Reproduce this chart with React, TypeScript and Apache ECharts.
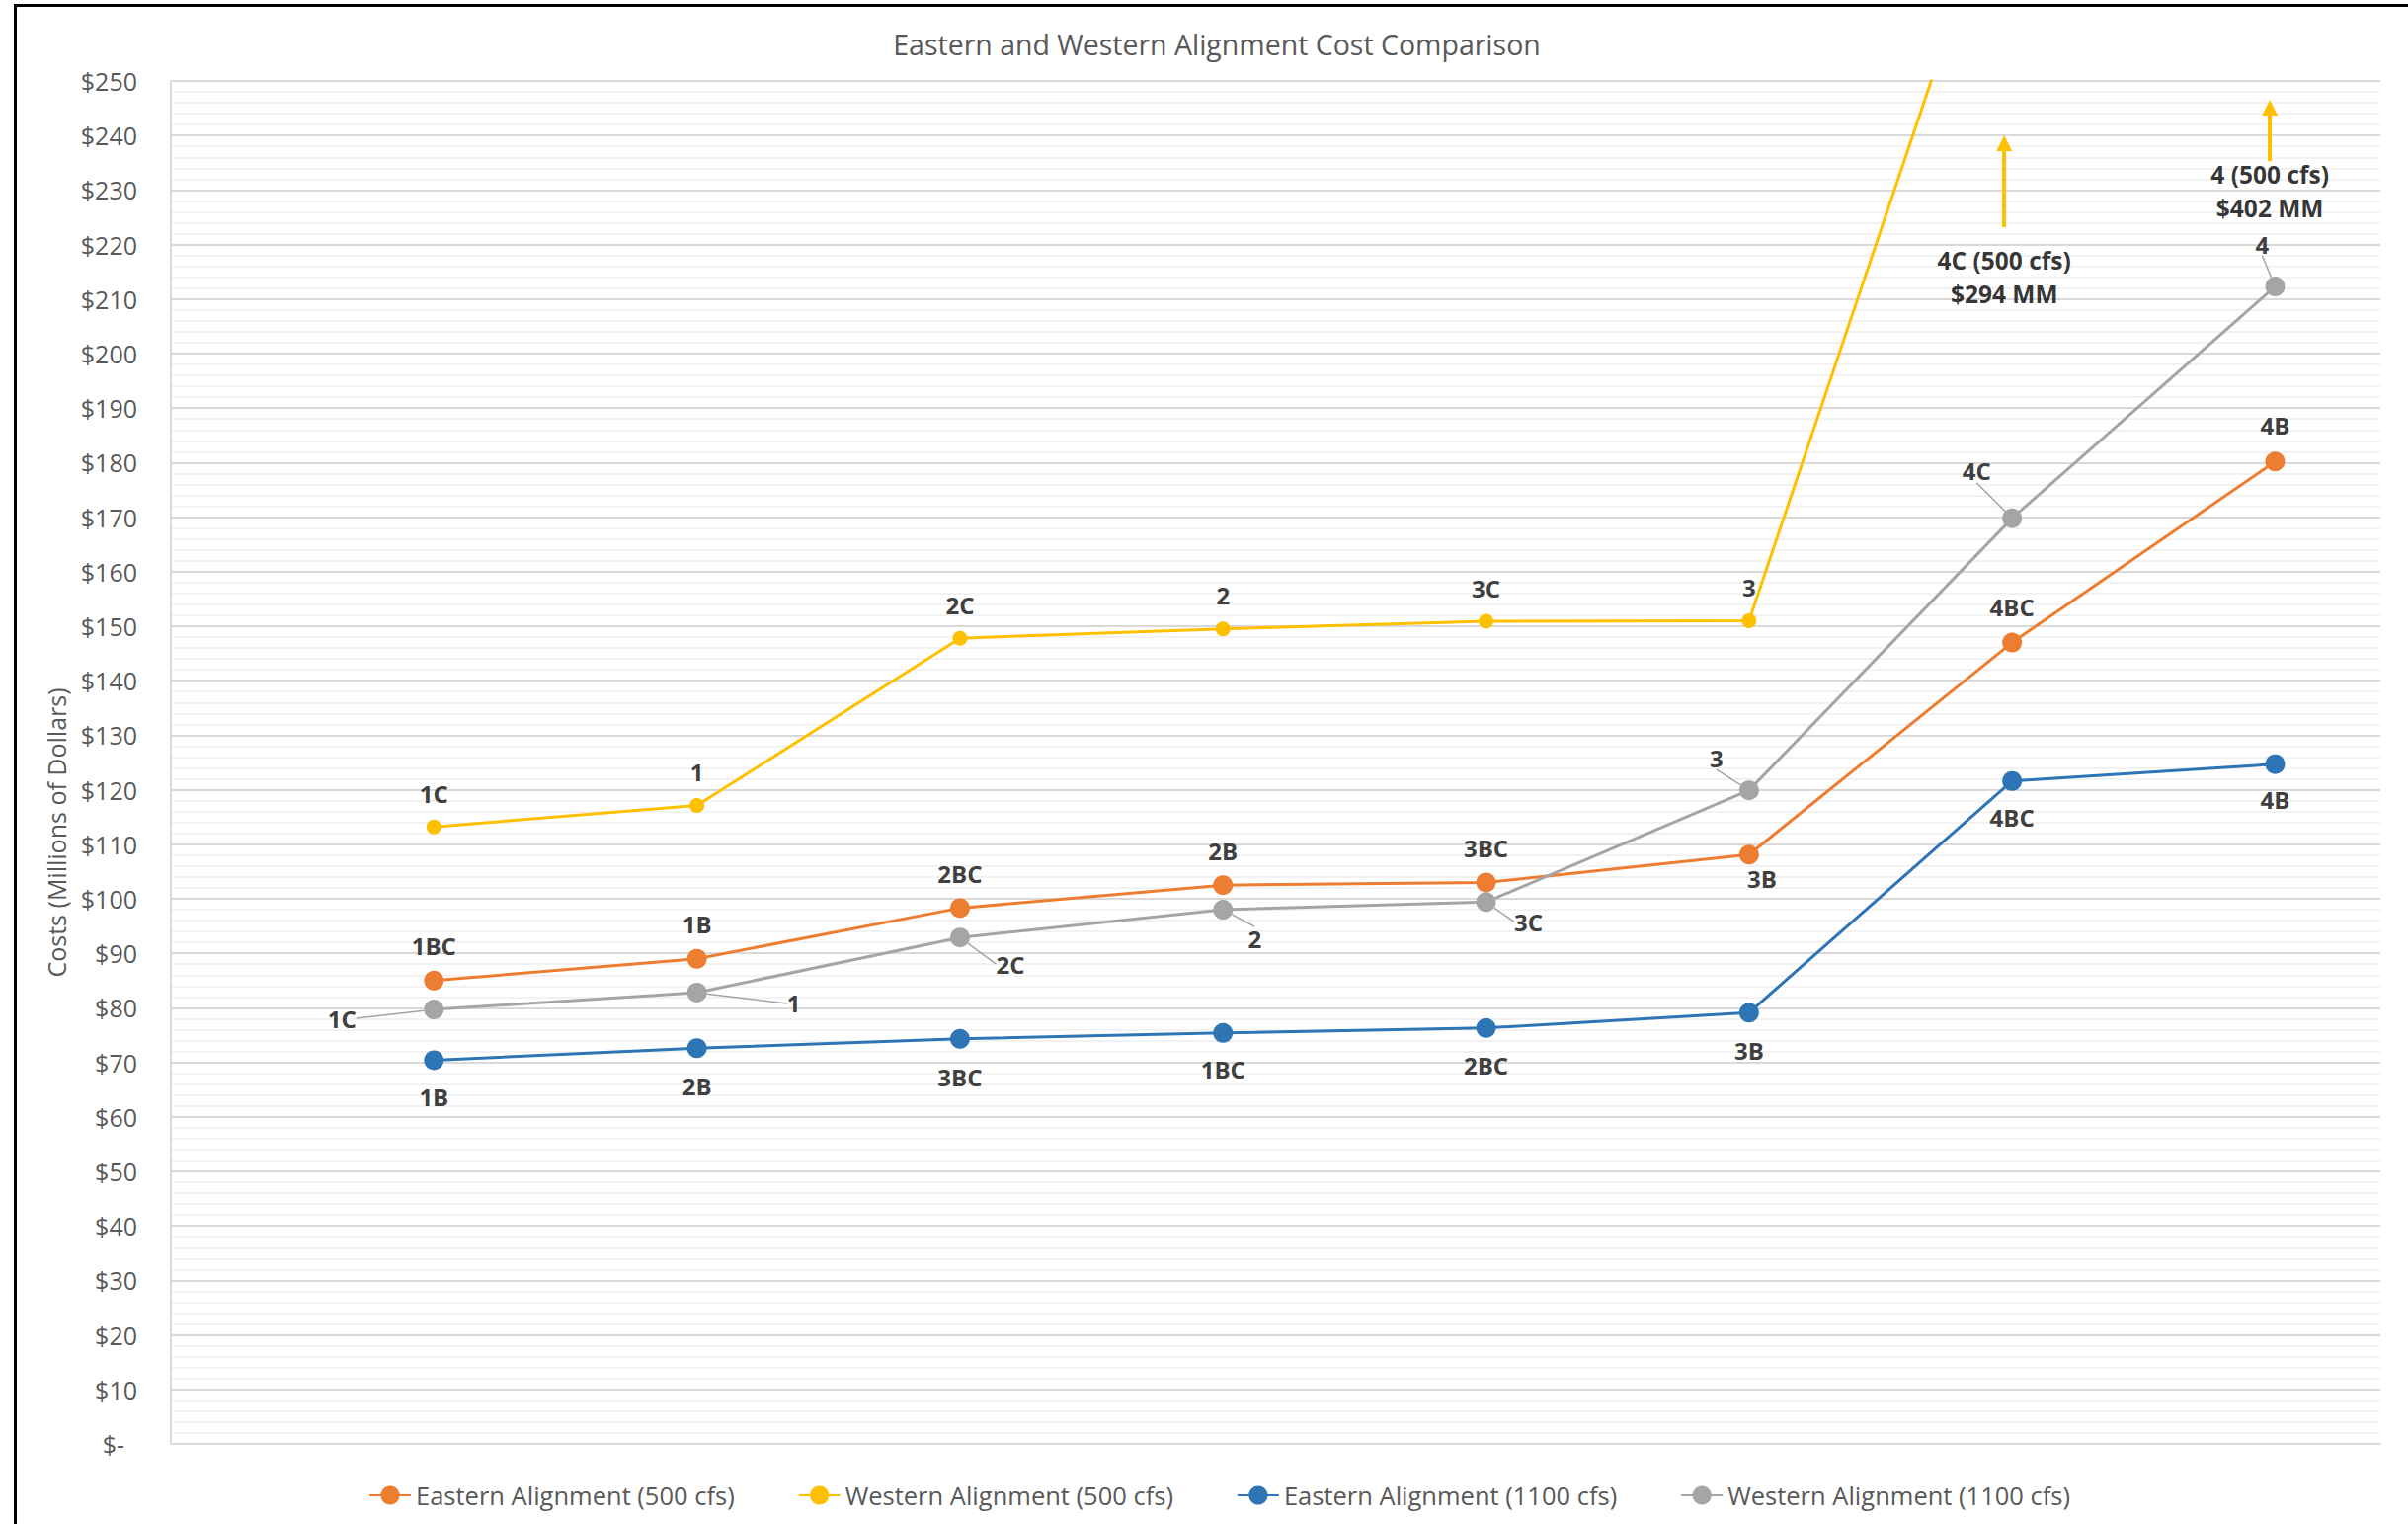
import React, { useEffect, useRef } from 'react';
import * as echarts from 'echarts';

// ---- data ----
const positions = [1, 2, 3, 4, 5, 6, 7, 8];
const easternA500 = [85.0, 89.0, 98.3, 102.5, 103.0, 108.1, 147.0, 180.2];
const westernA500 = [113.2, 117.1, 147.8, 149.5, 150.9, 151.0, 294, 402];
const easternA1100 = [70.4, 72.6, 74.3, 75.4, 76.3, 79.1, 121.6, 124.7];
const westernA1100 = [79.7, 82.8, 92.9, 98.0, 99.4, 119.9, 169.8, 212.3];

const easternA500Labels = ['1BC', '1B', '2BC', '2B', '3BC', '3B', '4BC', '4B'];
const westernA500Labels = ['1C', '1', '2C', '2', '3C', '3', '4C', '4'];
const easternA1100Labels = ['1B', '2B', '3BC', '1BC', '2BC', '3B', '4BC', '4B'];
const westernA1100Labels = ['1C', '1', '2C', '2', '3C', '3', '4C', '4'];

const seriesNames = [
  'Eastern Alignment (500 cfs)',
  'Western Alignment (500 cfs)',
  'Eastern Alignment (1100 cfs)',
  'Western Alignment (1100 cfs)',
];

const offChartPositions = [7, 8];
const offChartValues = [294, 402];
const offChartTexts = ['4C (500 cfs)\n$294 MM', '4 (500 cfs)\n$402 MM'];

const titleText = 'Eastern and Western Alignment Cost Comparison';
const yAxisTitle = 'Costs (Millions of Dollars)';

// ---- styling / placement (kept apart from the data) ----
const FONT = '"Open Sans", "Noto Sans", sans-serif';
const labelColor = '#404040';
const offsetsE500 = [[0, -35], [0, -35], [0, -35], [0, -35], [0, -35], [13, 24], [0, -36], [0, -37]];
const offsetsW500 = [[0, -34], [0, -34], [0, -34], [0, -34], [0, -34], [0, -34], [0, 0], [0, 0]];
const offsetsE1100 = [[0, 37], [0, 38], [0, 39], [0, 37], [0, 38], [0, 38], [0, 37], [0, 36]];
const offsetsW1100 = [[-93, 9], [98, 11], [51, 27], [32, 29], [43, 20], [-33, -33], [-36, -48], [-13, -43]];
const annotationX = [6.97, 7.98];
const annotationY = [214, 229.8];
const arrowTail = [223.2, 235.3];
const arrowHead = [238.6, 245.1];

function buildData(values: number[]) {
  return values.map((v, i) => {
    if (v > 250) return { value: [positions[i], v], symbol: 'none', label: { show: false } };
    return { value: [positions[i], v] };
  });
}

function lineSeries(
  name: string,
  values: number[],
  color: string,
  size: number,
  labels: string[],
  offsets: number[][],
  leader: boolean
) {
  return {
    type: 'line',
    name,
    data: buildData(values),
    symbol: 'circle',
    symbolSize: size,
    clip: true,
    lineStyle: { color, width: 3 },
    itemStyle: { color },
    label: {
      show: true,
      position: 'inside',
      formatter: (p: any) => labels[p.dataIndex],
      color: labelColor,
      fontFamily: FONT,
      fontSize: 24,
      fontWeight: 'bold',
    },
    labelLayout: (p: any) => ({ dx: offsets[p.dataIndex][0], dy: offsets[p.dataIndex][1] }),
    labelLine: leader
      ? { show: true, lineStyle: { color: '#a5a5a5', width: 1.5 } }
      : { show: false },
    emphasis: { disabled: true },
    z: 3,
  };
}

export default function App() {
  const ref = useRef<HTMLDivElement>(null);

  useEffect(() => {
    if (!ref.current) return;
    const chart = echarts.init(ref.current, null, { renderer: 'svg' });

    const w500: any = lineSeries(seriesNames[1], westernA500, '#ffc000', 15, westernA500Labels, offsetsW500, false);
    w500.markLine = {
      silent: true,
      symbol: ['none', 'triangle'],
      symbolSize: 16,
      lineStyle: { color: '#ffc000', width: 4, type: 'solid' },
      label: { show: false },
      emphasis: { disabled: true },
      data: annotationX.map((x, i) => [
        { coord: [x, arrowTail[i]] },
        { coord: [x, arrowHead[i]] },
      ]),
    };

    const option: any = {
      animation: false,
      backgroundColor: '#ffffff',
      graphic: [
        {
          type: 'text',
          x: 1232,
          y: 45,
          style: {
            text: titleText,
            fill: '#595959',
            font: `28.5px ${FONT}`,
            align: 'center',
            verticalAlign: 'middle',
            textAlign: 'center',
            textVerticalAlign: 'middle',
          },
        },
        {
          type: 'text',
          x: 57,
          y: 843,
          rotation: Math.PI / 2,
          style: {
            text: yAxisTitle,
            fill: '#595959',
            font: `25px ${FONT}`,
            align: 'center',
            verticalAlign: 'middle',
            textAlign: 'center',
            textVerticalAlign: 'middle',
          },
        },
      ],
      grid: { left: 173, right: 28, top: 82, bottom: 81, containLabel: false },
      xAxis: {
        type: 'value',
        min: 0,
        max: 8.4,
        axisLine: { show: true, onZero: false, lineStyle: { color: '#d9d9d9', width: 2 } },
        axisTick: { show: false },
        axisLabel: { show: false },
        splitLine: { show: false },
      },
      yAxis: {
        type: 'value',
        min: 0,
        max: 250,
        interval: 10,
        axisLine: { show: true, lineStyle: { color: '#d9d9d9', width: 2 } },
        axisTick: { show: false },
        axisLabel: {
          formatter: (v: number) => (v === 0 ? '$-  ' : '$' + v),
          color: '#595959',
          fontSize: 25,
          fontFamily: FONT,
          margin: 34,
        },
        splitLine: { show: true, lineStyle: { color: '#d9d9d9', width: 2 } },
        minorTick: { show: false, splitNumber: 5 },
        minorSplitLine: { show: true, lineStyle: { color: '#f2f2f2', width: 2 } },
      },
      legend: {
        data: seriesNames,
        left: 368,
        top: 1496,
        itemWidth: 42,
        itemHeight: 24,
        itemGap: 64,
        textStyle: { color: '#595959', fontSize: 25.5, fontFamily: FONT },
      },
      series: [
        lineSeries(seriesNames[0], easternA500, '#ed7d31', 20, easternA500Labels, offsetsE500, false),
        w500,
        lineSeries(seriesNames[2], easternA1100, '#2e75b6', 20, easternA1100Labels, offsetsE1100, false),
        lineSeries(seriesNames[3], westernA1100, '#a5a5a5', 20, westernA1100Labels, offsetsW1100, true),
        {
          type: 'scatter',
          name: 'annotations',
          silent: true,
          data: annotationX.map((x, i) => ({
            value: [x, annotationY[i]],
            ref: [offChartPositions[i], offChartValues[i]],
          })),
          symbolSize: 1,
          itemStyle: { color: 'rgba(0,0,0,0)' },
          label: {
            show: true,
            position: 'inside',
            formatter: (p: any) => offChartTexts[p.dataIndex],
            color: '#000000',
            fontFamily: FONT,
            fontSize: 24.5,
            fontWeight: 'bold',
            lineHeight: 34,
            align: 'center',
          },
          emphasis: { disabled: true },
          z: 4,
        },
      ],
    };

    chart.setOption(option);
    return () => chart.dispose();
  }, []);

  return (
    <div style={{ position: 'fixed', left: 0, top: 0, width: 2438, height: 1543, background: '#fff' }}>
      <div ref={ref} style={{ position: 'absolute', left: 0, top: 0, width: 2438, height: 1543 }} />
      <div
        style={{
          position: 'absolute',
          left: 14,
          top: 4,
          width: 2430,
          height: 1545,
          borderLeft: '3px solid #000',
          borderTop: '3px solid #000',
          pointerEvents: 'none',
          boxSizing: 'border-box',
        }}
      />
    </div>
  );
}
